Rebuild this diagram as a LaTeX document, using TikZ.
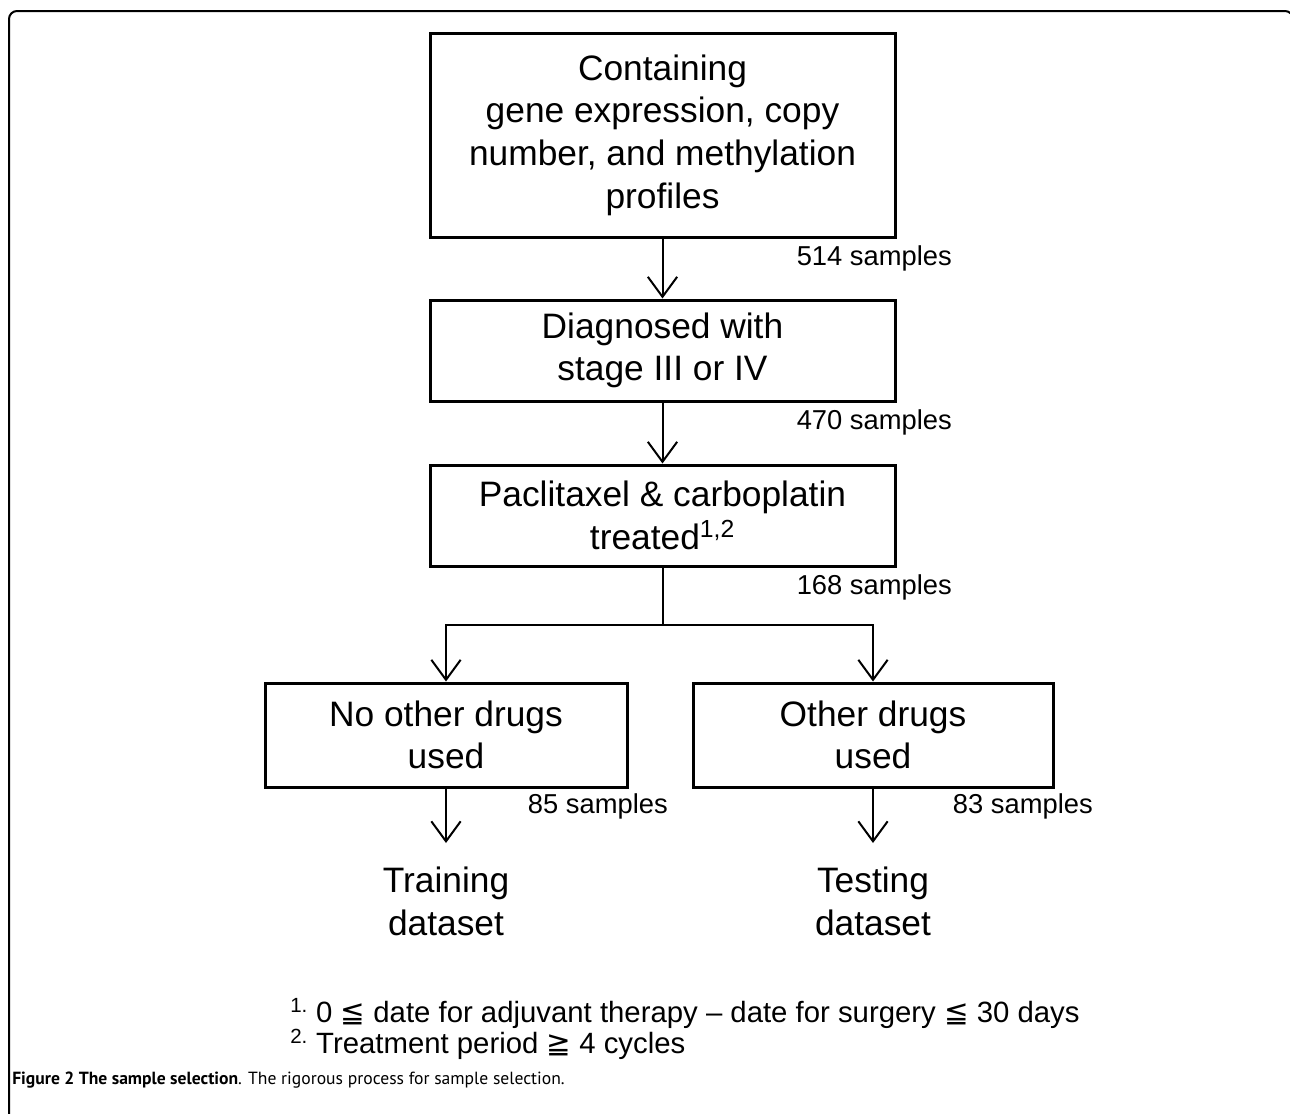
\documentclass[tikz,border=0pt]{standalone}
\usepackage{fontspec}
\setmainfont{Liberation Sans}
\newfontfamily\symfont{DejaVu Sans}
\newfontfamily\capfont{PT Sans}
\usetikzlibrary{arrows.meta}
\tikzset{
  box/.style={draw, line width=2.25pt, minimum width=348.75pt, align=center, inner sep=0pt,
    font=\fontsize{26.5}{32}\selectfont},
  cnt/.style={font=\fontsize{20.5}{24}\selectfont, anchor=east, inner sep=0pt},
  outlbl/.style={font=\fontsize{26.5}{32}\selectfont, align=center, anchor=north, inner sep=0pt, outer sep=0pt},
  arr/.style={line width=1.5pt, -{Straight Barb[length=15pt, width=22pt, line width=1.5pt]}},
  ln/.style={line width=1.5pt},
}
\begin{document}
\begin{tikzpicture}[x=0.75pt,y=-0.75pt]
\useasboundingbox (0,0) rectangle (1290,1114);
\begin{scope}
\clip (0,0) rectangle (1290,1114);
\draw[line width=1.5pt, rounded corners=6pt] (9,1130) -- (9,11) -- (1293,11) -- (1293,1130);
\end{scope}

\node[box, minimum height=153pt] (b1) at (662.5,135) {Containing\\gene expression, copy\\number, and methylation\\profiles};
\node[box, minimum height=75.75pt] (b2) at (662.5,350.5) {Diagnosed with\\stage III or IV};
\node[box, minimum height=75.75pt] (b3) at (662.5,515.5) {Paclitaxel \& carboplatin\\treated\textsuperscript{1,2}};
\node[box, minimum width=271.5pt, minimum height=78pt] (b4) at (446,735) {No other drugs\\used};
\node[box, minimum width=270pt, minimum height=78pt] (b5) at (873,735) {Other drugs\\used};

\node[cnt] (n1) at (952,258) {514 samples};
\node[cnt] (n2) at (952,422) {470 samples};
\node[cnt] (n3) at (952,587) {168 samples};
\node[cnt] (n4) at (668,806) {85 samples};
\node[cnt] (n5) at (1093,806) {83 samples};

\node[outlbl] (tr) at (446,867) {Training\\dataset};
\node[outlbl] (te) at (873,867) {Testing\\dataset};

\coordinate (split) at (662.5,625);
\draw[arr] (b1.south) -- (b2.north);
\draw[arr] (b2.south) -- (b3.north);
\draw[ln] (b3.south) -- (split);
\draw[arr] (split) -| (b4.north);
\draw[arr] (split) -| (b5.north);
\draw[arr, shorten >=18pt] (b4.south) -- (tr.north);
\draw[arr, shorten >=18pt] (b5.south) -- (te.north);

\node[anchor=west, inner sep=0pt, align=left, font=\fontsize{22}{22.5}\selectfont] (fn) at (290,1029)
 {\textsuperscript{1.} 0 {\symfont ≦} date for adjuvant therapy -- date for surgery {\symfont ≦} 30 days\\
  \textsuperscript{2.} Treatment period {\symfont ≧} 4 cycles};

\node[anchor=west, inner sep=0pt, font=\capfont\fontsize{13.2}{15}\selectfont] (cap) at (12,1080)
 {\textbf{Figure 2 The sample selection}. The rigorous process for sample selection.};
\end{tikzpicture}
\end{document}
